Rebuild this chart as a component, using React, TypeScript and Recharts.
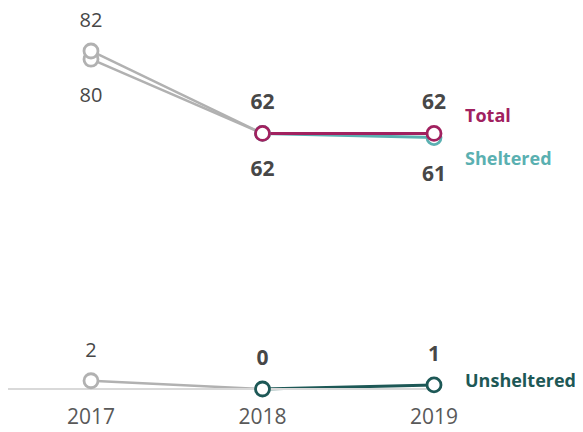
import { LineChart, Line, XAxis, YAxis, LabelList } from 'recharts';

const years = ['2017', '2018', '2019'];
const total = [82, 62, 62];
const sheltered = [80, 62, 61];
const unsheltered = [2, 0, 1];

const GRAY = '#b1b1b1';
const TEXT = '#474747';
const FONT = '"Open Sans", sans-serif';
const TOTAL_COLOR = '#a1215f';
const SHELTERED_COLOR = '#5ab0b1';
const UNSHELTERED_COLOR = '#1d5856';

// gray part covers 2017 -> 2018, coloured part 2018 -> 2019
const data = years.map((year, i) => ({
  year,
  totalPrev: i <= 1 ? total[i] : null,
  total: i >= 1 ? total[i] : null,
  shelteredPrev: i <= 1 ? sheltered[i] : null,
  sheltered: i >= 1 ? sheltered[i] : null,
  unshelteredPrev: i <= 1 ? unsheltered[i] : null,
  unsheltered: i >= 1 ? unsheltered[i] : null,
}));

const ringDot = (color: string, onlyFirst: boolean) => (props: any) => {
  const { cx, cy, index, value } = props;
  if (cy == null || value == null || (onlyFirst && index !== 0)) {
    return <g key={`d-${index}`} />;
  }
  return (
    <circle
      key={`d-${index}`}
      cx={cx}
      cy={cy}
      r={7}
      fill="#fff"
      stroke={color}
      strokeWidth={2.8}
    />
  );
};

// above labels: baseline above point, below labels: baseline under point
const valueLabel = (above: boolean, bold: boolean) => (props: any) => {
  const { x, y, value, index } = props;
  if (value == null || y == null) return null;
  if (!bold && index !== 0) return null;
  return (
    <text
      key={`v-${index}`}
      x={x}
      y={above ? y - 24 : y + 43}
      textAnchor="middle"
      fill={TEXT}
      fontFamily={FONT}
      fontSize={bold ? 21 : 20}
      fontWeight={bold ? 'bold' : 'normal'}
    >
      {value}
    </text>
  );
};

const nameLabel = (name: string, color: string, dy: number) => (props: any) => {
  const { x, y, index } = props;
  if (index !== years.length - 1 || y == null) return null;
  return (
    <text
      key="name"
      x={x + 31}
      y={y + dy}
      fill={color}
      fontFamily={FONT}
      fontSize={18}
      fontWeight="bold"
    >
      {name}
    </text>
  );
};

export default function App() {
  return (
    <div style={{ margin: -8 }}>
      <LineChart
        width={583}
        height={432}
        data={data}
        margin={{ top: 18, right: 143, left: 4, bottom: 0 }}
        style={{ fontFamily: FONT }}
      >
        <XAxis
          dataKey="year"
          height={43}
          padding={{ left: 87, right: 6 }}
          tickLine={false}
          tickSize={0}
          tickMargin={20}
          axisLine={{ stroke: '#d9d9d9', strokeWidth: 2 }}
          tick={{ fill: '#595959', fontSize: 21, fontFamily: FONT }}
        />
        <YAxis hide domain={[0, 90]} />

        <Line
          dataKey="shelteredPrev"
          stroke={GRAY}
          strokeWidth={2.5}
          dot={ringDot(GRAY, true)}
          isAnimationActive={false}
        >
          <LabelList dataKey="shelteredPrev" content={valueLabel(false, false)} />
        </Line>
        <Line
          dataKey="totalPrev"
          stroke={GRAY}
          strokeWidth={2.5}
          dot={ringDot(GRAY, true)}
          isAnimationActive={false}
        >
          <LabelList dataKey="totalPrev" content={valueLabel(true, false)} />
        </Line>
        <Line
          dataKey="unshelteredPrev"
          stroke={GRAY}
          strokeWidth={2.5}
          dot={ringDot(GRAY, true)}
          isAnimationActive={false}
        >
          <LabelList dataKey="unshelteredPrev" content={valueLabel(true, false)} />
        </Line>

        <Line
          dataKey="sheltered"
          stroke={SHELTERED_COLOR}
          strokeWidth={3}
          dot={ringDot(SHELTERED_COLOR, false)}
          isAnimationActive={false}
        >
          <LabelList dataKey="sheltered" content={valueLabel(false, true)} />
          <LabelList dataKey="sheltered" content={nameLabel('Sheltered', SHELTERED_COLOR, 27)} />
        </Line>
        <Line
          dataKey="total"
          stroke={TOTAL_COLOR}
          strokeWidth={3}
          dot={ringDot(TOTAL_COLOR, false)}
          isAnimationActive={false}
        >
          <LabelList dataKey="total" content={valueLabel(true, true)} />
          <LabelList dataKey="total" content={nameLabel('Total', TOTAL_COLOR, -11)} />
        </Line>
        <Line
          dataKey="unsheltered"
          stroke={UNSHELTERED_COLOR}
          strokeWidth={3}
          dot={ringDot(UNSHELTERED_COLOR, false)}
          isAnimationActive={false}
        >
          <LabelList dataKey="unsheltered" content={valueLabel(true, true)} />
          <LabelList
            dataKey="unsheltered"
            content={nameLabel('Unsheltered', UNSHELTERED_COLOR, 2)}
          />
        </Line>
      </LineChart>
    </div>
  );
}
